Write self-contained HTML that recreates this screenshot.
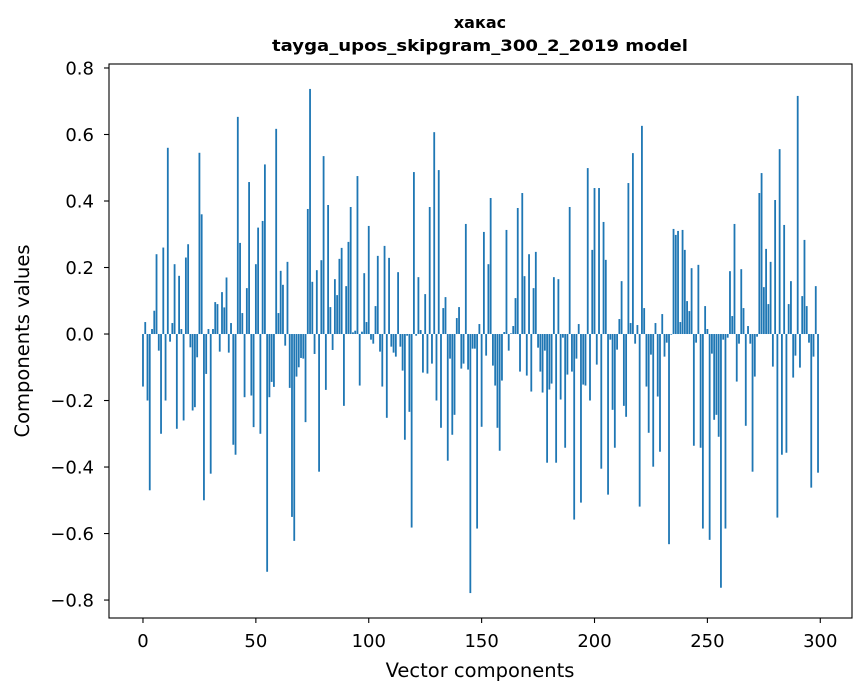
<!DOCTYPE html>
<html><head><meta charset="utf-8"><style>
html,body{margin:0;padding:0;background:#fff;}
svg{display:block;font-family:"DejaVu Sans","Liberation Sans",sans-serif;}
</style></head><body>
<svg id="chart" width="867" height="696" viewBox="0 0 867 696" xmlns="http://www.w3.org/2000/svg">
<text x="480" y="28" text-anchor="middle" font-size="16" font-weight="bold">хакас</text>
<text x="480" y="51" text-anchor="middle" font-size="16" font-weight="bold" textLength="416" lengthAdjust="spacingAndGlyphs">tayga_upos_skipgram_300_2_2019 model</text>
<g id="bars"></g>
<g id="axes"></g>
<text x="480" y="677" text-anchor="middle" font-size="19.5">Vector components</text>
<text transform="translate(29,341) rotate(-90)" text-anchor="middle" font-size="19.5">Components values</text>
</svg>
<script>
const values = [
-0.158,0.036,-0.2,-0.47,0.015,0.07,0.24,-0.05,-0.3,0.26,
-0.2,0.56,-0.023,0.033,0.21,-0.285,0.175,0.015,-0.26,0.23,
0.27,-0.04,-0.23,-0.22,-0.07,0.545,0.36,-0.5,-0.12,0.015,
-0.42,0.015,0.096,0.09,-0.053,0.126,0.08,0.17,-0.056,0.033,
-0.333,-0.363,0.653,0.274,0.063,-0.19,0.138,0.457,-0.185,-0.28,
0.21,0.32,-0.3,0.34,0.51,-0.715,-0.19,-0.144,-0.159,0.617,
0.063,0.19,0.148,-0.035,0.217,-0.162,-0.55,-0.622,-0.128,-0.1,
-0.072,-0.074,-0.265,0.376,0.737,0.157,-0.06,0.192,-0.414,0.222,
0.535,-0.168,0.388,0.081,-0.048,0.165,0.117,0.226,0.259,-0.216,
0.144,0.277,0.382,0.005,0.01,0.475,-0.155,0.007,0.183,0.036,
0.325,-0.017,-0.029,0.084,0.235,-0.053,-0.158,0.265,-0.252,0.229,
-0.038,-0.056,-0.068,0.186,-0.038,-0.11,-0.318,-0.005,-0.234,-0.582,
0.487,-0.005,0.171,0.012,-0.116,0.12,-0.119,0.382,-0.089,0.607,
-0.2,0.493,-0.282,0.078,0.111,-0.381,-0.074,-0.303,-0.243,0.048,
0.081,-0.104,-0.089,0.331,-0.107,-0.779,-0.044,-0.044,-0.585,0.03,
-0.279,0.307,-0.065,0.21,0.409,-0.095,-0.155,-0.282,-0.351,-0.14,
0.006,0.313,-0.05,0.002,0.024,0.108,0.379,-0.113,0.424,0.174,
-0.125,0.24,-0.173,0.138,0.247,-0.041,-0.113,-0.176,-0.05,-0.387,
-0.167,-0.149,0.171,-0.387,0.165,-0.197,-0.011,-0.342,-0.122,0.382,
-0.113,-0.558,-0.074,0.03,-0.507,-0.152,-0.155,0.499,-0.2,0.253,
0.439,-0.092,0.439,-0.405,0.337,0.223,-0.483,-0.017,-0.228,-0.342,
-0.047,0.045,0.159,-0.216,-0.249,0.454,0.033,0.544,-0.029,0.027,
-0.519,0.626,0.078,-0.158,-0.297,-0.062,-0.399,0.033,-0.188,-0.354,
0.06,-0.068,-0.026,-0.632,-0.002,0.316,0.298,0.31,0.036,0.313,
0.253,0.099,0.069,0.198,-0.336,-0.026,0.208,-0.342,-0.585,0.084,
0.015,-0.619,-0.059,-0.258,-0.243,-0.309,-0.763,-0.017,-0.585,-0.011,
0.189,0.054,0.331,-0.143,-0.029,0.195,0.078,-0.276,0.024,-0.029,
-0.414,-0.128,-0.008,0.424,0.484,0.141,0.256,0.09,0.217,-0.098,
0.403,-0.552,0.556,-0.363,0.328,-0.357,0.09,0.159,-0.131,-0.065,
0.716,-0.101,0.114,0.283,0.084,-0.026,-0.462,-0.068,0.144,-0.417
];
const xTicks = [0,50,100,150,200,250,300];
const yTicks = [-0.8,-0.6,-0.4,-0.2,0.0,0.2,0.4,0.6,0.8];

const L=109,R=852,T=64,B=618;
const xMin=-15.05,xMax=314.05,yMin=-0.854,yMax=0.812;
const NS='http://www.w3.org/2000/svg';
function xs(v){return L+(v-xMin)/(xMax-xMin)*(R-L);}
function ys(v){return B-(v-yMin)/(yMax-yMin)*(B-T);}
function mk(tag,attrs,parent){const e=document.createElementNS(NS,tag);for(const k in attrs)e.setAttribute(k,attrs[k]);parent.appendChild(e);return e;}

const bars=document.getElementById('bars');
values.forEach((v,i)=>{
  const x0=xs(i-0.4),x1=xs(i+0.4);
  const y0=ys(Math.max(v,0)),y1=ys(Math.min(v,0));
  const r=mk('rect',{x:x0,y:y0,width:x1-x0,height:Math.max(y1-y0,0.01),fill:'#1f77b4'},bars);
  
  
});

const axes=document.getElementById('axes');
const frame=mk('rect',{x:L,y:T,width:R-L,height:B-T,fill:'none',stroke:'#000','stroke-width':1.1},axes);


xTicks.forEach(t=>{
  const x=xs(t);
  const ln=mk('line',{x1:x,x2:x,y1:B,y2:B+5,stroke:'#000','stroke-width':1.1},axes);
  
  
  const tx=mk('text',{x:x,y:B+29,'text-anchor':'middle','font-size':'18'},axes);
  tx.textContent=String(t);
  
  
});
yTicks.forEach(t=>{
  const y=ys(t);
  const ln=mk('line',{x1:L-5,x2:L,y1:y,y2:y,stroke:'#000','stroke-width':1.1},axes);
  
  
  const tx=mk('text',{x:L-15,y:y+6.5,'text-anchor':'end','font-size':'18'},axes);
  tx.textContent=(t<0?'\u2212':'')+Math.abs(t).toFixed(1);
  
  
});
</script>
</body></html>
